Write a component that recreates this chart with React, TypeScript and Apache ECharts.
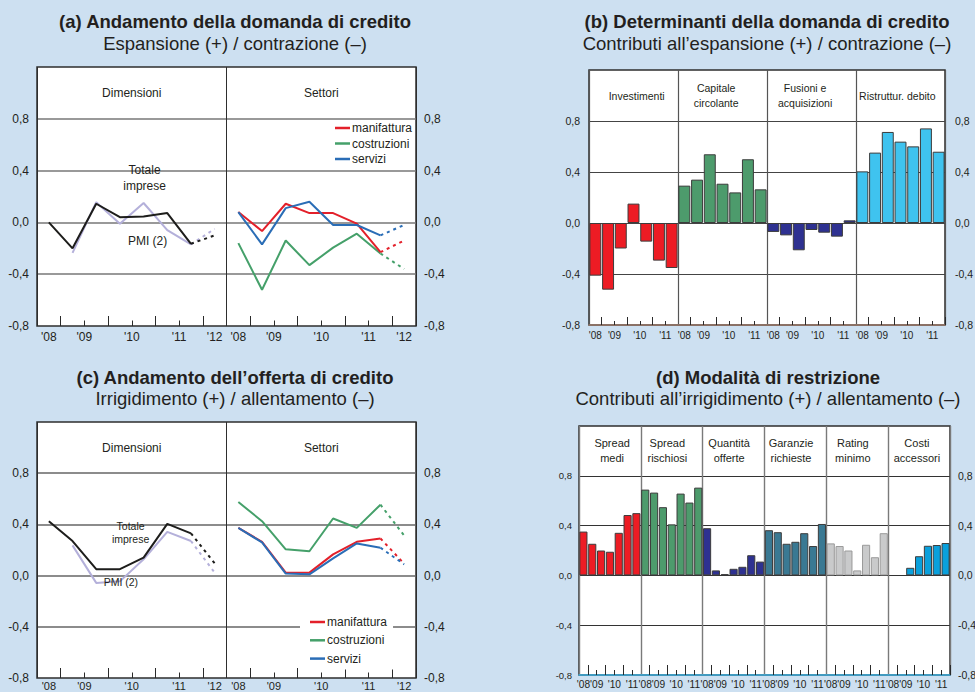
import React, { useEffect, useRef } from "react";
import * as echarts from "echarts";

const FONT = "'Liberation Sans', Arial, Helvetica, sans-serif";
const NARROW = "'Liberation Sans Narrow', 'Arial Narrow', 'Liberation Sans', Arial, sans-serif";
const INK = "#231f20";
const BG = "#cde0f1";

// ---------- shared periods / tick labels ----------
const halfYears = ["2008H2", "2009H1", "2009H2", "2010H1", "2010H2", "2011H1", "2011H2", "2012H1"];
const lineSides = ["Dimensioni", "Settori"];
const lineTickPos = [0.5, 2, 4, 6, 7.5];
const lineTickLabels = ["'08", "'09", "'10", "'11", "'12"];
const barPeriods = halfYears.slice(0, 7);
const barTickPos = [0.5, 2, 4, 6];
const barTickLabels = ["'08", "'09", "'10", "'11"];

// ---------- (a) demand ----------
const demandTotale = [0.0, -0.2, 0.144, 0.04, 0.046, 0.072, -0.165];
const demandTotalePrev = -0.1;
const demandPMI = [null, -0.235, 0.156, -0.01, 0.15, -0.06, -0.17];
const demandPMIPrev = -0.05;
const demandManifattura = [0.08, -0.067, 0.144, 0.072, 0.072, -0.01, -0.23];
const demandManifatturaPrev = -0.14;
const demandCostruzioni = [-0.16, -0.52, -0.14, -0.33, -0.195, -0.087, -0.24];
const demandCostruzioniPrev = -0.36;
const demandServizi = [0.08, -0.17, 0.11, 0.16, -0.02, -0.02, -0.1];
const demandServiziPrev = -0.02;

// ---------- (c) supply ----------
const supplyTotale = [0.425, 0.27, 0.05, 0.05, 0.14, 0.404, 0.33];
const supplyTotalePrev = 0.096;
const supplyPMI = [null, 0.236, -0.057, -0.045, 0.127, 0.342, 0.27];
const supplyPMIPrev = 0.023;
const supplyManifattura = [0.373, 0.264, 0.023, 0.023, 0.166, 0.264, 0.29];
const supplyManifatturaPrev = 0.093;
const supplyCostruzioni = [0.575, 0.425, 0.205, 0.19, 0.446, 0.373, 0.554];
const supplyCostruzioniPrev = 0.313;
const supplyServizi = [0.373, 0.259, 0.016, 0.01, 0.135, 0.251, 0.218];
const supplyServiziPrev = 0.088;

// ---------- (b) demand determinants ----------
const demandGroups = ["Investimenti", "Capitale\ncircolante", "Fusioni e\nacquisizioni", "Ristruttur. debito"];
const investimenti = [-0.413, -0.523, -0.2, 0.152, -0.146, -0.295, -0.353];
const capitaleCircolante = [0.293, 0.34, 0.539, 0.308, 0.24, 0.5, 0.264];
const fusioniAcquisizioni = [-0.07, -0.097, -0.214, -0.055, -0.076, -0.107, 0.021];
const ristrutturDebito = [0.405, 0.552, 0.714, 0.638, 0.601, 0.742, 0.559];
const demandGroupColors = ["#ed1c24", "#4d9b6c", "#2e3191", "#3fc3ef"];

// ---------- (d) restriction ----------
const supplyGroups = ["Spread\nmedi", "Spread\nrischiosi", "Quantità\nofferte", "Garanzie\nrichieste", "Rating\nminimo", "Costi\naccessori"];
const spreadMedi = [0.352, 0.254, 0.2, 0.19, 0.342, 0.485, 0.5];
const spreadRischiosi = [0.689, 0.665, 0.548, 0.41, 0.657, 0.585, 0.705];
const quantitaOfferte = [0.379, 0.04, 0.01, 0.053, 0.069, 0.162, 0.111];
const garanzieRichieste = [0.363, 0.347, 0.254, 0.27, 0.339, 0.236, 0.413];
const ratingMinimo = [0.257, 0.236, 0.2, 0.04, 0.246, 0.146, 0.339];
const costiAccessori = [null, null, 0.061, 0.154, 0.238, 0.244, 0.26];
const supplyGroupColors = ["#ed1c24", "#4d9b6c", "#2e3191", "#3a7993", "#c9cacb", "#0aa0dc"];

const C = {
  totale: "#1d1d1b",
  pmi: "#b4b0da",
  manifattura: "#e3202a",
  costruzioni: "#45a06a",
  servizi: "#2a6db6",
};

type Num = number | null;

function pad(vals: Num[], start: number, total: number) {
  const out: (number | string)[] = new Array(total).fill("-");
  vals.forEach((v, i) => {
    if (v !== null) out[start + i] = v;
  });
  return out;
}

function fmtY(v: number) {
  if (v > 1.0001) return "";
  if (Math.abs(v) < 1e-9) return "0,0";
  return v.toFixed(1).replace(".", ",");
}

function xAxes(o: any) {
  const n = o.cats.length;
  const g = o.group;
  const tick = { color: "#2a2a2a", width: 1 };
  return [
    {
      type: "category", gridIndex: o.grid, data: o.cats, boundaryGap: true, position: "bottom",
      axisLine: o.axisLine ? { show: true, onZero: false, lineStyle: { color: o.axisLine, width: 1.5 } } : { show: false, onZero: false },
      axisTick: { show: true, inside: true, length: o.longTick, interval: (i: number) => (i % g) % 2 === 1, lineStyle: tick },
      axisLabel: { show: false },
      splitLine: { show: true, interval: (i: number) => i % g === 0, lineStyle: { color: o.divider, width: o.dividerWidth } },
    },
    {
      type: "category", gridIndex: o.grid, data: o.cats, boundaryGap: true, position: "bottom",
      axisLine: { show: false, onZero: false },
      axisTick: { show: true, inside: true, length: o.shortTick, interval: (i: number) => i % g !== 0 && (i % g) % 2 === 0, lineStyle: tick },
      axisLabel: { show: false },
      splitLine: { show: false },
    },
    {
      type: "value", gridIndex: o.grid, min: 0, max: n, interval: 0.5, position: "bottom",
      axisLine: { show: false, onZero: false }, axisTick: { show: false }, splitLine: { show: false },
      axisLabel: {
        show: true, margin: o.labelMargin, fontSize: o.labelFont, fontFamily: NARROW, color: INK,
        formatter: (v: number) => {
          const k = o.tickPos.indexOf(v % g);
          return k >= 0 ? o.tickLabels[k] : "";
        },
      },
    },
  ];
}

function yAxes(o: any) {
  const base = { type: "value", gridIndex: o.grid, min: -0.8, max: 1.2, interval: 0.4, axisLine: { show: false }, axisTick: { show: false } };
  return [
    {
      ...base, position: "left",
      axisLabel: { margin: o.leftMargin, fontSize: o.leftFont, fontFamily: NARROW, color: INK, formatter: fmtY },
      splitLine: { show: true, showMinLine: false, showMaxLine: false, lineStyle: { color: o.gridColor, width: o.gridWidth } },
    },
    {
      ...base, position: "right",
      axisLabel: { margin: o.rightMargin, fontSize: o.rightFont, fontFamily: NARROW, color: INK, formatter: fmtY },
      splitLine: { show: false },
    },
  ];
}

function line(name: string, color: string, data: any[], xi: number, yi: number, dashed: boolean, extra: any = {}) {
  return {
    type: "line", name, xAxisIndex: xi, yAxisIndex: yi, data,
    symbol: "none", showSymbol: false, connectNulls: false, silent: true,
    itemStyle: { color }, lineStyle: { color, width: 2, type: dashed ? [3, 4] : "solid" },
    emphasis: { disabled: true },
    ...extra,
  };
}

function lineCats() {
  const out: string[] = [];
  lineSides.forEach((s) => halfYears.forEach((h) => out.push(`${s} ${h}`)));
  return out;
}

function barCats(groups: string[]) {
  const out: string[] = [];
  groups.forEach((gname) => barPeriods.forEach((p) => out.push(`${gname.replace("\n", " ")} ${p}`)));
  return out;
}

function linePanelSeries(p: any) {
  const { xi, yi, cats } = p;
  const N = cats.length;
  const last = (a: Num[]) => a[a.length - 1];
  const headerArea = {
    silent: true,
    itemStyle: { color: "rgba(0,0,0,0)" },
    label: { show: true, position: "inside", color: INK, fontFamily: NARROW, fontSize: 12, lineHeight: 14 },
    data: [
      [{ name: lineSides[0], xAxis: cats[0], yAxis: 0.8 }, { xAxis: cats[7], yAxis: 1.2 }],
      [{ name: lineSides[1], xAxis: cats[8], yAxis: 0.8 }, { xAxis: cats[15], yAxis: 1.2 }],
    ],
  };
  const notes = {
    silent: true,
    symbol: "circle",
    symbolSize: 1,
    itemStyle: { color: "rgba(0,0,0,0)" },
    label: { show: true, position: "inside", color: INK, fontFamily: NARROW, fontSize: p.noteFont, lineHeight: p.noteLine },
    data: p.notes.map((n: any) => ({
      coord: [cats[n.band], n.value],
      value: 0,
      label: { formatter: n.text, offset: n.offset },
    })),
  };
  return [
    line("PMI", C.pmi, pad(p.pmi, 0, N), xi, yi, false),
    line("PMI prev.", C.pmi, pad([last(p.pmi), p.pmiPrev], 6, N), xi, yi, true),
    line("Totale imprese", C.totale, pad(p.totale, 0, N), xi, yi, false, { markArea: headerArea, markPoint: notes }),
    line("Totale imprese prev.", C.totale, pad([last(p.totale), p.totalePrev], 6, N), xi, yi, true),
    line("costruzioni", C.costruzioni, pad(p.costr, 8, N), xi, yi, false),
    line("costruzioni prev.", C.costruzioni, pad([last(p.costr), p.costrPrev], 14, N), xi, yi, true),
    line("manifattura", C.manifattura, pad(p.manif, 8, N), xi, yi, false),
    line("manifattura prev.", C.manifattura, pad([last(p.manif), p.manifPrev], 14, N), xi, yi, true),
    line("servizi", C.servizi, pad(p.serv, 8, N), xi, yi, false),
    line("servizi prev.", C.servizi, pad([last(p.serv), p.servPrev], 14, N), xi, yi, true),
  ];
}

function barPanelSeries(p: any) {
  const { xi, yi, cats, groups, values, colors } = p;
  const data: any[] = [];
  values.forEach((vals: Num[], gi: number) => {
    vals.forEach((v) => {
      data.push({
        value: v === null ? "-" : v,
        itemStyle: { color: colors[gi], borderColor: colors[gi] === "#c9cacb" ? "#9a9a9a" : "#3c3c3c" },
      });
    });
  });
  const g = barPeriods.length;
  return [
    {
      type: "bar", name: p.name, xAxisIndex: xi, yAxisIndex: yi, data,
      barCategoryGap: p.gap, silent: true,
      itemStyle: { borderColor: "#3c3c3c", borderWidth: 1 },
      emphasis: { disabled: true },
      markArea: {
        silent: true,
        itemStyle: { color: "rgba(0,0,0,0)" },
        label: { show: true, position: "inside", color: INK, fontFamily: NARROW, fontSize: p.headFont, lineHeight: p.headLine },
        data: groups.map((gname: string, gi: number) => [
          { name: gname, xAxis: cats[gi * g], yAxis: 0.8 },
          { xAxis: cats[gi * g + g - 1], yAxis: 1.2 },
        ]),
      },
    },
  ];
}

function buildOption() {
  const catsL = lineCats();
  const catsB = barCats(demandGroups);
  const catsD = barCats(supplyGroups);

  const gridBase = { show: true, backgroundColor: "#ffffff", borderColor: "#2e2e2e", borderWidth: 1.5, containLabel: false, outerBoundsMode: "none" };

  const xA = xAxes({ grid: 0, cats: catsL, group: 8, tickPos: lineTickPos, tickLabels: lineTickLabels, longTick: 10, shortTick: 5.5, divider: "#2e2e2e", dividerWidth: 1, axisLine: null, labelFont: 12, labelMargin: 5 });
  const xB = xAxes({ grid: 1, cats: catsB, group: 7, tickPos: barTickPos, tickLabels: barTickLabels, longTick: 8, shortTick: 4, divider: "#555555", dividerWidth: 1.2, axisLine: "#9a7868", labelFont: 10, labelMargin: 5 });
  const xC = xAxes({ grid: 2, cats: catsL, group: 8, tickPos: lineTickPos, tickLabels: lineTickLabels, longTick: 10, shortTick: 5.5, divider: "#2e2e2e", dividerWidth: 1, axisLine: null, labelFont: 11, labelMargin: 2 });
  const xD = xAxes({ grid: 3, cats: catsD, group: 7, tickPos: barTickPos, tickLabels: barTickLabels, longTick: 10, shortTick: 5, divider: "#7a7a7a", dividerWidth: 1.4, axisLine: "#3aaee0", labelFont: 10.2, labelMargin: 4 });

  const yA = yAxes({ grid: 0, leftMargin: 8, rightMargin: 8, leftFont: 12, rightFont: 12, gridColor: "#777777", gridWidth: 1.5 });
  const yB = yAxes({ grid: 1, leftMargin: 9, rightMargin: 10, leftFont: 10.5, rightFont: 10.5, gridColor: "#444444", gridWidth: 1 });
  const yC = yAxes({ grid: 2, leftMargin: 8, rightMargin: 8, leftFont: 12, rightFont: 12, gridColor: "#666666", gridWidth: 1.5 });
  const yD = yAxes({ grid: 3, leftMargin: 7, rightMargin: 8, leftFont: 9.5, rightFont: 10.5, gridColor: "#333333", gridWidth: 1 });

  const seriesA = linePanelSeries({
    xi: 0, yi: 0, cats: catsL,
    totale: demandTotale, totalePrev: demandTotalePrev, pmi: demandPMI, pmiPrev: demandPMIPrev,
    manif: demandManifattura, manifPrev: demandManifatturaPrev,
    costr: demandCostruzioni, costrPrev: demandCostruzioniPrev,
    serv: demandServizi, servPrev: demandServiziPrev,
    noteFont: 12, noteLine: 16,
    notes: [
      { band: 4, value: 0.34, text: "Totale\nimprese", offset: [1, 0] },
      { band: 4, value: -0.145, text: "PMI (2)", offset: [4, 0] },
    ],
  });
  const seriesC = linePanelSeries({
    xi: 6, yi: 4, cats: catsL,
    totale: supplyTotale, totalePrev: supplyTotalePrev, pmi: supplyPMI, pmiPrev: supplyPMIPrev,
    manif: supplyManifattura, manifPrev: supplyManifatturaPrev,
    costr: supplyCostruzioni, costrPrev: supplyCostruzioniPrev,
    serv: supplyServizi, servPrev: supplyServiziPrev,
    noteFont: 10.5, noteLine: 13,
    notes: [
      { band: 4, value: 0.34, text: "Totale\nimprese", offset: [-13, 0] },
      { band: 3, value: -0.052, text: "PMI (2)", offset: [1, 0] },
    ],
  });
  const seriesB = barPanelSeries({
    name: "Determinanti", xi: 3, yi: 2, cats: catsB, groups: demandGroups,
    values: [investimenti, capitaleCircolante, fusioniAcquisizioni, ristrutturDebito],
    colors: demandGroupColors, gap: "6%", headFont: 10.5, headLine: 14.5,
  });
  const seriesD = barPanelSeries({
    name: "Modalità", xi: 9, yi: 6, cats: catsD, groups: supplyGroups,
    values: [spreadMedi, spreadRischiosi, quantitaOfferte, garanzieRichieste, ratingMinimo, costiAccessori],
    colors: supplyGroupColors, gap: "8%", headFont: 11, headLine: 15,
  });

  const legendBase = {
    orient: "vertical", icon: "rect", itemWidth: 15, itemHeight: 2.5, selectedMode: false,
    data: ["manifattura", "costruzioni", "servizi"],
    itemStyle: { borderWidth: 0 },
    textStyle: { fontFamily: NARROW, fontSize: 12, color: INK, lineHeight: 14, padding: [0, 0, 0, -3] },
  };

  const title = (x: number, y: number, text: string, bold: boolean) => ({
    type: "text", x, y, silent: true,
    style: {
      text, fill: INK, fontFamily: FONT, fontSize: 18.5, fontWeight: bold ? "bold" : "normal",
      textAlign: "center", textVerticalAlign: "middle", align: "center", verticalAlign: "middle",
    },
  });

  return {
    animation: false,
    backgroundColor: BG,
    textStyle: { fontFamily: FONT },
    grid: [
      { ...gridBase, left: 37, top: 67, width: 379, height: 259 },
      { ...gridBase, left: 589, top: 70, width: 356, height: 255 },
      { ...gridBase, left: 37, top: 422, width: 379, height: 256 },
      { ...gridBase, left: 579, top: 426, width: 371, height: 249 },
    ],
    xAxis: [...xA, ...xB, ...xC, ...xD],
    yAxis: [...yA, ...yB, ...yC, ...yD],
    legend: [
      { ...legendBase, left: 335, top: 121, padding: 0, itemGap: 1.5 },
      { ...legendBase, left: 300, top: 611, padding: [4, 6, 4, 10], itemGap: 4.3, backgroundColor: "#ffffff" },
    ],
    series: [...seriesA, ...seriesB, ...seriesC, ...seriesD],
    graphic: [
      title(235, 21.5, "(a) Andamento della domanda di credito", true),
      title(235, 43.5, "Espansione (+) / contrazione (–)", false),
      title(767, 21.5, "(b) Determinanti della domanda di credito", true),
      title(767, 43.5, "Contributi all’espansione (+) / contrazione (–)", false),
      title(235, 377, "(c) Andamento dell’offerta di credito", true),
      title(235, 398, "Irrigidimento (+) / allentamento (–)", false),
      title(768, 377, "(d) Modalità di restrizione", true),
      title(768, 398, "Contributi all’irrigidimento (+) / allentamento (–)", false),
    ],
  };
}

export default function App() {
  const ref = useRef<HTMLDivElement>(null);
  useEffect(() => {
    if (!ref.current) return;
    const chart = echarts.init(ref.current, undefined, { renderer: "svg" });
    chart.setOption(buildOption() as any);
    return () => chart.dispose();
  }, []);
  return <div ref={ref} style={{ position: "fixed", left: 0, top: 0, width: 975, height: 692 }} />;
}
